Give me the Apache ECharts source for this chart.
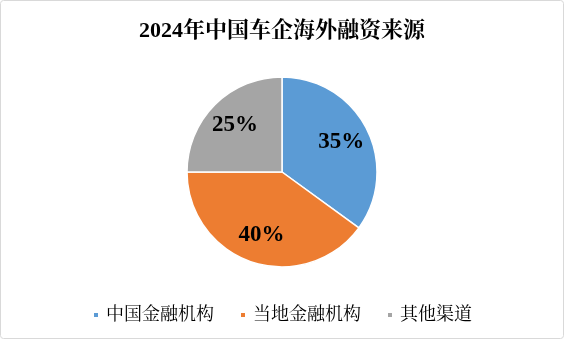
<!DOCTYPE html>
<html><head><meta charset="utf-8">
<script src="https://cdn.jsdelivr.net/npm/echarts@6/dist/echarts.min.js"></script>
<style>html,body{margin:0;padding:0;background:#fff}#c{width:564px;height:339px}</style>
</head><body><div id="c"></div>
<script>
const titleText = '2024年中国车企海外融资来源';
const categories = ['中国金融机构', '当地金融机构', '其他渠道'];
const values = [35, 40, 25];
const colors = ['#5B9BD5', '#ED7D31', '#A5A5A5'];

const serif = "'Liberation Serif', 'Noto Serif CJK SC', 'Noto Sans CJK SC', serif";
const data = categories.map((n, i) => ({ name: n, value: values[i], itemStyle: { color: colors[i] } }));

const chart = echarts.init(document.getElementById('c'));
chart.setOption({
  animation: false,
  graphic: [{
    type: 'rect', left: 0, top: 0, z: -1,
    shape: { x: 0.5, y: 0.5, width: 563, height: 338, r: 3 },
    style: { fill: '#fff', stroke: '#D9D9D9', lineWidth: 1 }
  }],
  title: {
    text: titleText, left: 'center', top: 15,
    textStyle: { fontFamily: serif, fontSize: 22, fontWeight: 'bold', color: '#000' }
  },
  legend: {
    bottom: 10, left: 'center', itemWidth: 6, itemHeight: 6, itemGap: 25, icon: 'rect',
    data: categories,
    textStyle: { fontFamily: serif, fontSize: 18, color: '#000', padding: [0, 0, 0, 2] }
  },
  series: [{
    type: 'pie', center: [282, 172], radius: 95, startAngle: 90, clockwise: true,
    silent: true,
    itemStyle: { borderColor: '#fff', borderWidth: 1.5 },
    label: { show: false }, labelLine: { show: false },
    data: data
  }, {
    type: 'pie', center: [282, 172], radius: [32, 95], startAngle: 90, clockwise: true,
    silent: true, legendHoverLink: false,
    itemStyle: { color: 'transparent' },
    label: {
      show: true, position: 'inside', formatter: '{c}%',
      fontFamily: serif, fontSize: 23, fontWeight: 'bold', color: '#000'
    },
    labelLine: { show: false },
    data: categories.map((n, i) => ({ name: n, value: values[i], itemStyle: { color: 'transparent' } }))
  }]
});
</script></body></html>
